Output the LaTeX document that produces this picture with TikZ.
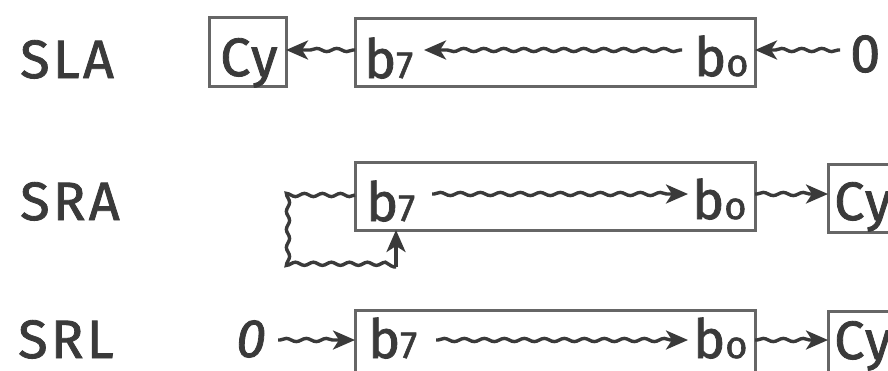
\documentclass[tikz,border=0pt]{standalone}
\usepackage{fontspec}
\setmainfont{Fira Sans}[FakeBold=1.5, LetterSpace=6]
\usetikzlibrary{decorations.pathmorphing,arrows.meta}
\definecolor{ink}{HTML}{3A3A3A}
\definecolor{boxc}{HTML}{666666}
\newcommand{\bigf}{\fontsize{54}{60}\selectfont}
\newcommand{\smf}{\fontsize{38}{40}\selectfont}
\begin{document}
\begin{tikzpicture}[x=1pt,y=-1pt,
  lbl/.style={font=\bigf, text=ink, inner sep=0pt, anchor=base west},
  regbox/.style={draw=boxc, line width=3pt, inner sep=0pt, outer sep=0pt},
  tip/.style={-{Stealth[length=22pt,width=19pt,inset=6pt]}},
  wavy/.style={draw=ink, line width=3.4pt, decorate,
    decoration={snake, amplitude=1.6pt, segment length=20pt, post length=16pt, pre length=2pt},
    tip},
  wavyline/.style={draw=ink, line width=3.4pt, decorate,
    decoration={snake, amplitude=1.6pt, segment length=18pt}}]
\clip (0,0) rectangle (888,370);
\fill[white] (0,0) rectangle (888,370);

% ---------- SLA ----------
\node[lbl] (sla) at (20,78) {SLA};
\node[regbox, minimum width=77pt, minimum height=69pt] (cy1) at (247.5,51.5) {};
\node[regbox, minimum width=400pt, minimum height=68pt] (reg1) at (555,52) {};
\node[lbl] (cyt1) at (220,76) {Cy};
\node[lbl] (b7a) at (364,78) {b\smf 7};
\node[lbl] (b0a) at (694,76) {b\smf o};
\node[lbl] (zeroa) at (850,72) {0};
\coordinate (y1) at (0,50);
\coordinate (in1s) at (682,50);
\coordinate (in1e) at (424,50);
\coordinate (z1) at (840,50);
\draw[wavy] (reg1.west |- y1) -- (cy1.east |- y1);
\draw[wavy] (in1s) -- (in1e);
\draw[wavy] (z1) -- (reg1.east |- y1);

% ---------- SRA ----------
\node[lbl] (sra) at (20,220) {SRA};
\node[regbox, minimum width=80pt, minimum height=68pt] (cy2) at (868,198.5) {};
\node[regbox, minimum width=400pt, minimum height=68pt] (reg2) at (555,196) {};
\node[lbl] (b7b) at (366,221) {b\smf 7};
\node[lbl] (b0b) at (692,219) {b\smf o};
\node[lbl] (cyt2) at (834,220) {Cy};
\coordinate (y2) at (0,194);
\coordinate (in2s) at (432,194);
\coordinate (in2e) at (688,194);
\coordinate (l1) at (288,195);
\coordinate (l2) at (288,267);
\coordinate (l3) at (396,267);
\draw[wavy] (in2s) -- (in2e);
\draw[wavy] (reg2.east |- y2) -- (cy2.west |- y2);
\draw[wavyline] (reg2.west |- l1) -- (l1) -- (l2) -- (l3);
\draw[draw=ink, line width=3.4pt, tip] (l3) -- (l3 |- reg2.south);

% ---------- SRL ----------
\node[lbl] (srl) at (18,358) {SRL};
\node[regbox, minimum width=400pt, minimum height=72pt] (reg3) at (555,346) {};
\node[regbox, minimum width=80pt, minimum height=72pt] (cy3) at (868,347) {};
\node[lbl, font=\bigf\itshape] (zeroc) at (236,357) {0};
\node[lbl] (b7c) at (368,358) {b\smf 7};
\node[lbl] (b0c) at (693,358) {b\smf o};
\node[lbl] (cyt3) at (834,359) {Cy};
\coordinate (y3) at (0,340);
\coordinate (z3) at (278,340);
\coordinate (in3s) at (436,340);
\coordinate (in3e) at (688,340);
\draw[wavy] (z3) -- (reg3.west |- y3);
\draw[wavy] (in3s) -- (in3e);
\draw[wavy] (reg3.east |- y3) -- (cy3.west |- y3);
\end{tikzpicture}
\end{document}
